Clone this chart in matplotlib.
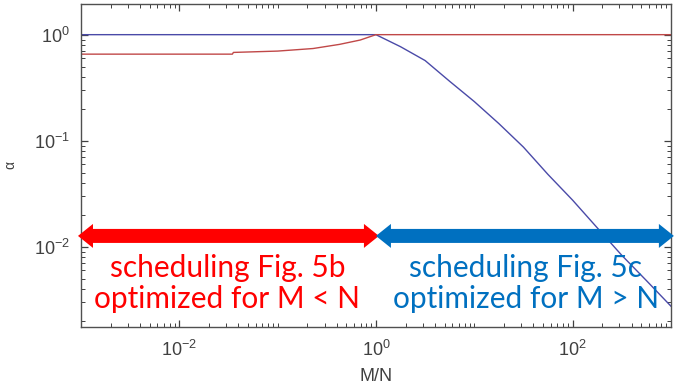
import numpy as np
import matplotlib
matplotlib.use('Agg')
import matplotlib.pyplot as plt
from matplotlib.patches import Polygon
from matplotlib.ticker import LogLocator, NullFormatter

plt.rcParams['font.family'] = 'Liberation Sans'
plt.rcParams['mathtext.fontset'] = 'custom'
plt.rcParams['mathtext.rm'] = 'Liberation Sans'
plt.rcParams['mathtext.it'] = 'Liberation Sans:italic'

# values (log10 of M/N and alpha)
blue_logx = [-3.0, 0.0, 0.25, 0.5, 0.75, 1.0, 1.25, 1.5, 1.75, 2.0, 2.25, 2.5, 2.75, 3.0]
blue_alpha = [1.0, 1.0, 0.77, 0.57, 0.363, 0.234, 0.145, 0.087, 0.048, 0.0275, 0.0151, 0.0083, 0.0048, 0.00275]
red_logx = [-3.0, -1.46, -1.45, -1.0, -0.64, -0.37, -0.16, 0.0, 3.0]
red_alpha = [0.655, 0.655, 0.68, 0.70, 0.74, 0.81, 0.89, 1.0, 1.0]

left_text = 'scheduling Fig. 5b\noptimized for M < N'
right_text = 'scheduling Fig. 5c\noptimized for M > N'

fig = plt.figure(figsize=(6.94, 3.92), dpi=100)
ax = fig.add_axes([0.1167, 0.166, 0.850, 0.824])

ax.plot(10 ** np.array(blue_logx), blue_alpha, color='#4a4aa8', lw=1.0)
ax.plot(10 ** np.array(red_logx), red_alpha, color='#c04848', lw=1.0)

ax.set_xscale('log')
ax.set_yscale('log')
ax.set_xlim(1e-3, 1e3)
ax.set_ylim(1.75e-3, 1.95)

ax.set_xticks([1e-2, 1, 1e2])
ax.set_yticks([1e-2, 1e-1, 1])
ax.xaxis.set_minor_locator(LogLocator(base=10, subs=np.arange(1, 10), numticks=20))
ax.yaxis.set_minor_locator(LogLocator(base=10, subs=np.arange(1, 10), numticks=20))
ax.xaxis.set_minor_formatter(NullFormatter())
ax.yaxis.set_minor_formatter(NullFormatter())
ax.tick_params(which='both', direction='in', top=True, right=True, colors='#404040',
               labelcolor='#404040', labelsize=13)
ax.tick_params(which='major', length=5, width=0.9)
ax.tick_params(which='minor', length=3, width=0.7)
ax.tick_params(axis='x', which='major', pad=9)
ax.tick_params(axis='y', which='major', pad=8)
for s in ax.spines.values():
  s.set_color('#505050')
  s.set_linewidth(1.0)

ax.set_xlabel('M/N', fontsize=13, color='#404040', labelpad=6)
ax.set_ylabel('α', fontsize=10, color='#404040', labelpad=12)

# double headed arrows, geometry in pixels turned into axes fraction
axw, axh = 590.0, 323.0
def dbl_arrow(x0, x1, y, color):
  hl, hw, sw = 15, 12, 7
  pts = [(x0, y), (x0 + hl, y + hw), (x0 + hl, y + sw), (x1 - hl, y + sw), (x1 - hl, y + hw),
         (x1, y), (x1 - hl, y - hw), (x1 - hl, y - sw), (x0 + hl, y - sw), (x0 + hl, y - hw)]
  pts = [(px / axw, py / axh) for px, py in pts]
  ax.add_patch(Polygon(pts, closed=True, facecolor=color, edgecolor='none',
                       transform=ax.transAxes, clip_on=False, zorder=5))

dbl_arrow(-3, 298, 91, '#ff0000')
dbl_arrow(295, 593, 91, '#0070c0')

ax.text(0.248, 0.135, left_text, transform=ax.transAxes, ha='center', va='center',
        color='#ff0000', fontsize=21.5, family='Lato', linespacing=1.15)
ax.text(0.754, 0.135, right_text, transform=ax.transAxes, ha='center', va='center',
        color='#0070c0', fontsize=21.5, family='Lato', linespacing=1.15)

fig.savefig('out.png', dpi=100)
